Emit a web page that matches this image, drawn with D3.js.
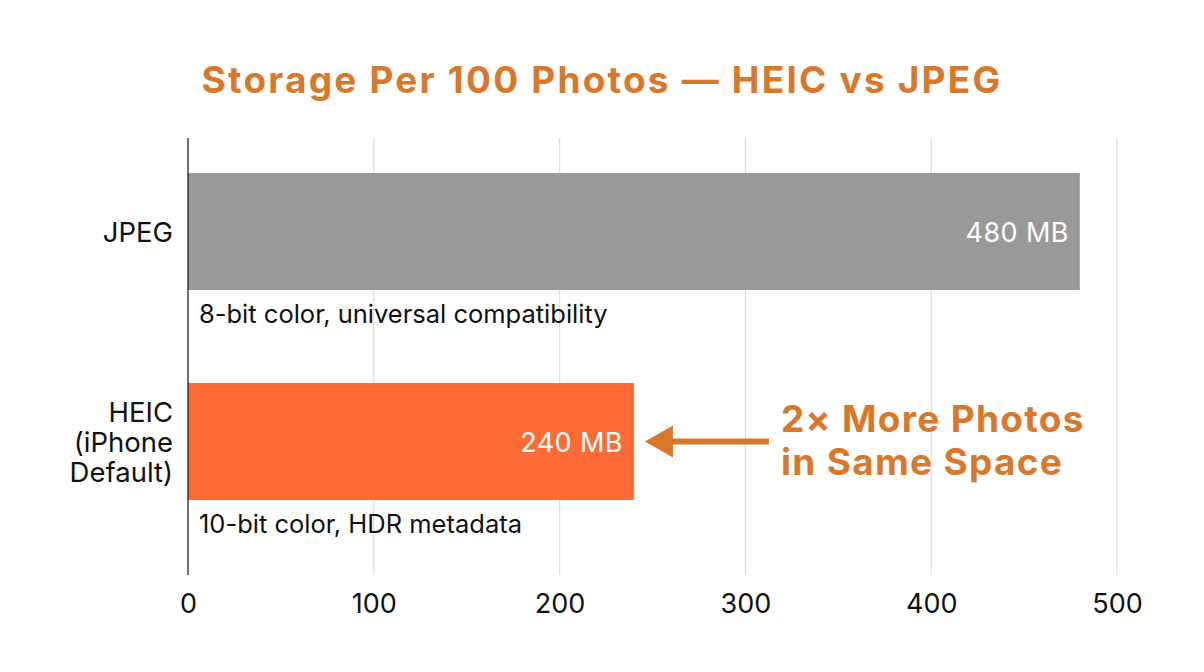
<!DOCTYPE html>
<html>
<head>
<meta charset="utf-8">
<script src="https://cdn.jsdelivr.net/npm/d3@7"></script>
<style>
  body { margin: 0; background: #fff; }
  text { font-family: Inter, "Noto Sans", sans-serif; }
</style>
</head>
<body>
<svg id="chart" width="1204" height="672"></svg>
<script>
// data
var categories = ["JPEG", "HEIC (iPhone Default)"];
var categoryLines = [["JPEG"], ["HEIC", "(iPhone", "Default)"]];
var sizesMB = [480, 240];
var valueLabels = ["480 MB", "240 MB"];
var notes = ["8-bit color, universal compatibility", "10-bit color, HDR metadata"];
var barColors = ["#999999", "#ff6b35"];
var xTicks = [0, 100, 200, 300, 400, 500];
var calloutLines = ["2\u00d7 More Photos", "in Same Space"];

var svg = d3.select("#chart");
var margin = {top: 138, right: 87, bottom: 97, left: 188};
var width = 1204, height = 672;
var orange = "#d9772a";

var x = d3.scaleLinear().domain([0, 500]).range([margin.left, width - margin.right]);
var band = d3.scaleBand().domain(categories).range([140, 560]);
var barH = 117;

// title
svg.append("text")
    .attr("x", 602).attr("y", 93)
    .attr("text-anchor", "middle")
    .attr("font-size", 37).attr("font-weight", 700)
    .attr("letter-spacing", 2.2)
    .attr("fill", orange)
    .text("Storage Per 100 Photos \u2014 HEIC vs JPEG");

// grid
svg.append("g").selectAll("line")
    .data(xTicks.slice(1))
    .join("line")
    .attr("x1", function (d) { return x(d); })
    .attr("x2", function (d) { return x(d); })
    .attr("y1", margin.top).attr("y2", height - margin.bottom)
    .attr("stroke", "#dddddd").attr("stroke-width", 1.2);

// bars
svg.append("g").selectAll("rect")
    .data(categories)
    .join("rect")
    .attr("x", x(0))
    .attr("y", function (d) { return band(d) + 33; })
    .attr("width", function (d, i) { return x(sizesMB[i]) - x(0); })
    .attr("height", barH)
    .attr("fill", function (d, i) { return barColors[i]; });

// value labels
svg.append("g").selectAll("text")
    .data(categories)
    .join("text")
    .attr("x", function (d, i) { return x(sizesMB[i]) - 11; })
    .attr("y", function (d) { return band(d) + 33 + barH / 2 + 10; })
    .attr("text-anchor", "end")
    .attr("font-size", 27)
    .attr("letter-spacing", 0.4)
    .attr("fill", "#fff")
    .text(function (d, i) { return valueLabels[i]; });

// notes under bars
svg.append("g").selectAll("text")
    .data(categories)
    .join("text")
    .attr("x", x(0) + 11)
    .attr("y", function (d) { return band(d) + 33 + barH + 33; })
    .attr("font-size", 25.5)
    .attr("fill", "#111")
    .text(function (d, i) { return notes[i]; });

// category labels
categories.forEach(function (c, i) {
    var lines = categoryLines[i];
    var cy = band(c) + 33 + barH / 2;
    var lh = 30;
    var t = svg.append("text")
        .attr("text-anchor", "end")
        .attr("font-size", 27.5)
        .attr("fill", "#111");
    lines.forEach(function (l, j) {
        t.append("tspan")
            .attr("x", x(0) - 15)
            .attr("y", cy + 10 + (j - (lines.length - 1) / 2) * lh)
            .text(l);
    });
});

// y axis line
svg.append("line")
    .attr("x1", x(0)).attr("x2", x(0))
    .attr("y1", margin.top).attr("y2", height - margin.bottom)
    .attr("stroke", "#111").attr("stroke-width", 1.2);

// x axis labels
var xAxis = d3.axisBottom(x).tickValues(xTicks).tickSize(0).tickPadding(0);
var gx = svg.append("g")
    .attr("transform", "translate(0,613)")
    .call(xAxis);
gx.select(".domain").remove();
gx.selectAll("text")
    .attr("font-size", 27)
    .attr("fill", "#111")
    .attr("y", 0)
    .attr("dy", 0)
    .style("font-family", "Inter, sans-serif");

// callout arrow
var heicY = band(categories[1]) + 33 + barH / 2;
var tip = x(sizesMB[1]) + 11;
svg.append("line")
    .attr("x1", 769).attr("x2", tip + 20)
    .attr("y1", heicY).attr("y2", heicY)
    .attr("stroke", orange).attr("stroke-width", 6);
svg.append("path")
    .attr("d", "M" + tip + "," + heicY +
        " L" + (tip + 28) + "," + (heicY - 16) +
        " L" + (tip + 28) + "," + (heicY + 16) + " Z")
    .attr("fill", orange);

// callout text
var ct = svg.append("text")
    .attr("font-size", 37).attr("font-weight", 700)
    .attr("letter-spacing", 1.3)
    .attr("fill", orange);
calloutLines.forEach(function (l, j) {
    ct.append("tspan")
        .attr("x", 781)
        .attr("y", 432 + j * 43)
        .text(l);
});
</script>
</body>
</html>
